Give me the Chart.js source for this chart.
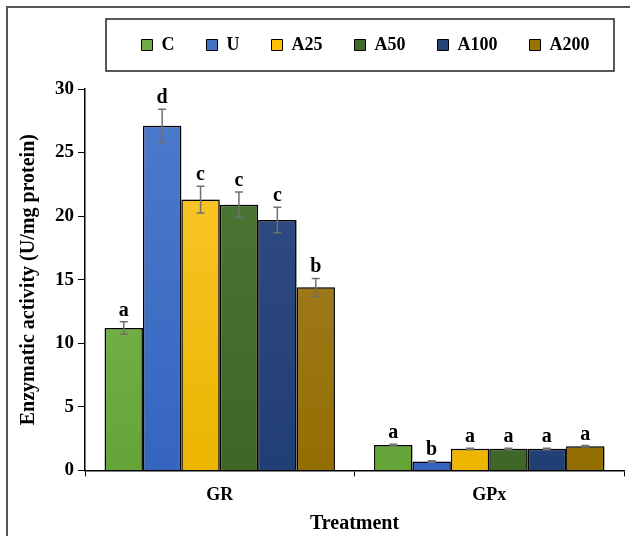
<!DOCTYPE html>
<html>
<head>
<meta charset="utf-8">
<script src="https://cdn.jsdelivr.net/npm/chart.js"></script>
<style>
body { margin: 0; background: #fff; }
#wrap { width: 630px; height: 536px; position: relative; }
</style>
</head>
<body>
<div id="wrap"><canvas id="c"></canvas></div>
<script>
const labels = ['GR', 'GPx']
const names = ['C', 'U', 'A25', 'A50', 'A100', 'A200']
const valC = [11.2, 2.0]
const valU = [27.1, 0.7]
const valA25 = [21.3, 1.7]
const valA50 = [20.9, 1.7]
const valA100 = [19.7, 1.7]
const valA200 = [14.4, 1.9]
const errC = [0.5, 0.05]
const errU = [1.3, 0.05]
const errA25 = [1.05, 0.05]
const errA50 = [1.0, 0.05]
const errA100 = [1.0, 0.05]
const errA200 = [0.7, 0.05]
const letC = ['a', 'a']
const letU = ['d', 'b']
const letA25 = ['c', 'a']
const letA50 = ['c', 'a']
const letA100 = ['c', 'a']
const letA200 = ['b', 'a']

const values = [valC, valU, valA25, valA50, valA100, valA200]
const errs = [errC, errU, errA25, errA50, errA100, errA200]
const lets = [letC, letU, letA25, letA50, letA100, letA200]
// [top, bottom] of each gradient
const cols = [
    ['#86bf5f', '#64a437'],
    ['#4d7bcc', '#3565c0'],
    ['#ffc935', '#ebb500'],
    ['#4f7a36', '#3f6626'],
    ['#354f85', '#213e75'],
    ['#a78236', '#946e00']
]
const solid = ['#70ad47', '#4472c4', '#ffc000', '#43682b', '#264478', '#997300']

const serif = '"Liberation Serif", "Times New Roman", serif'

function grad(i) {
    return function(context) {
        const chart = context.chart
        const area = chart.chartArea
        if (!area) return solid[i]
        const g = chart.ctx.createLinearGradient(0, area.top, 0, area.bottom)
        g.addColorStop(0, cols[i][0])
        g.addColorStop(1, cols[i][1])
        return g
    }
}

const datasets = []
for (let i = 0; i < names.length; i++) {
    datasets.push({
        label: names[i],
        data: values[i],
        backgroundColor: grad(i),
        borderColor: '#000',
        borderWidth: 1.5,
        categoryPercentage: 0.855,
        barPercentage: 1.0
    })
}

// extra room under the legend, and nudge the legend row to the right
const legendPlugin = {
    id: 'legendSpace',
    beforeInit(chart) {
        const lg = chart.legend
        const fit = lg.fit
        lg.fit = function() {
            fit.bind(lg)()
            this.height += 25
        }
    },
    afterLayout(chart) {
        chart.legend.left += 45
        chart.legend.right += 45
    }
}

const framePlugin = {
    id: 'frame',
    beforeDraw(chart) {
        const ctx = chart.ctx
        ctx.save()
        ctx.strokeStyle = '#555'
        ctx.lineWidth = 2
        ctx.strokeRect(7, 7, 700, 700)
        const boxes = chart.legend.legendHitBoxes
        if (boxes && boxes.length) {
            const cy = boxes[0].top + boxes[0].height / 2
            ctx.strokeStyle = '#222'
            ctx.lineWidth = 1.5
            ctx.strokeRect(106, cy - 26, 508, 52)
        }
        ctx.restore()
    }
}

const shadowPlugin = {
    id: 'shadow',
    beforeDatasetsDraw(chart) {
        const ctx = chart.ctx
        ctx.save()
        ctx.shadowColor = 'rgba(0,0,0,0.3)'
        ctx.shadowBlur = 4
        ctx.shadowOffsetX = 3
        ctx.shadowOffsetY = 0
    },
    afterDatasetsDraw(chart) {
        chart.ctx.restore()
    }
}

const errPlugin = {
    id: 'errbars',
    afterDatasetsDraw(chart) {
        const ctx = chart.ctx
        const y = chart.scales.y
        ctx.save()
        for (let i = 0; i < chart.data.datasets.length; i++) {
            const meta = chart.getDatasetMeta(i)
            meta.data.forEach(function(bar, j) {
                const v = values[i][j]
                const e = errs[i][j]
                const top = y.getPixelForValue(v + e)
                const bot = y.getPixelForValue(v - e)
                ctx.strokeStyle = '#707070'
                ctx.lineWidth = 1.5
                ctx.beginPath()
                ctx.moveTo(bar.x, top)
                ctx.lineTo(bar.x, bot)
                ctx.moveTo(bar.x - 4, top)
                ctx.lineTo(bar.x + 4, top)
                ctx.moveTo(bar.x - 4, bot)
                ctx.lineTo(bar.x + 4, bot)
                ctx.stroke()
                ctx.fillStyle = '#000'
                ctx.font = 'bold 20px ' + serif
                ctx.textAlign = 'center'
                ctx.textBaseline = 'alphabetic'
                ctx.fillText(lets[i][j], bar.x, top - 6)
            })
        }
        ctx.restore()
    }
}

new Chart(document.getElementById('c'), {
    type: 'bar',
    data: { labels: labels, datasets: datasets },
    plugins: [legendPlugin, framePlugin, shadowPlugin, errPlugin],
    options: {
        responsive: true,
        maintainAspectRatio: false,
        animation: false,
        layout: { padding: { top: 4, left: 17, right: 6, bottom: 0 } },
        plugins: {
            tooltip: { enabled: false },
            legend: {
                position: 'top',
                labels: {
                    color: '#000',
                    font: { family: serif, size: 18, weight: 'bold' },
                    boxWidth: 11,
                    boxHeight: 11,
                    padding: 32,
                    generateLabels(chart) {
                        return names.map(function(n, i) {
                            return {
                                text: n,
                                fillStyle: solid[i],
                                strokeStyle: '#000',
                                lineWidth: 1,
                                datasetIndex: i
                            }
                        })
                    }
                }
            }
        },
        scales: {
            x: {
                grid: { display: true, drawOnChartArea: false, color: '#000', tickLength: 6, offset: true },
                border: { color: '#000', width: 1.5 },
                ticks: { color: '#000', font: { family: serif, size: 18, weight: 'bold' }, padding: 8 },
                title: { display: true, text: 'Treatment', color: '#000', font: { family: serif, size: 20, weight: 'bold' }, padding: { top: -2, bottom: 0 } }
            },
            y: {
                min: 0,
                max: 30,
                ticks: { stepSize: 5, color: '#000', font: { family: serif, size: 19, weight: 'bold' }, padding: 4 },
                grid: { display: true, drawOnChartArea: false, color: '#000', tickLength: 7 },
                border: { color: '#000', width: 1.5 },
                title: { display: true, text: 'Enzymatic activity (U/mg protein)', color: '#000', font: { family: serif, size: 20, weight: 'bold' }, padding: { top: 0, bottom: 10 } }
            }
        }
    }
})
</script>
</body>
</html>
